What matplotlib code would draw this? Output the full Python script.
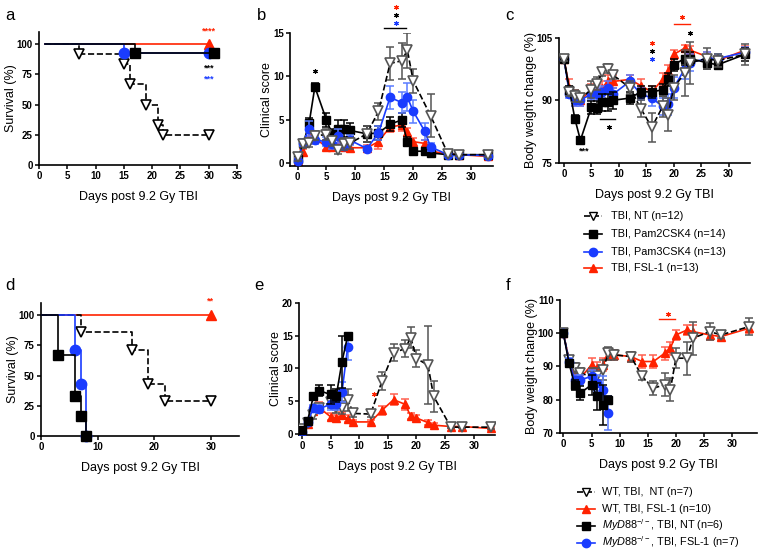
import matplotlib
matplotlib.use("Agg")
import matplotlib.pyplot as plt
from matplotlib.lines import Line2D

plt.rcParams['font.family'] = ['Liberation Sans', 'DejaVu Sans']
plt.rcParams['mathtext.fontset'] = 'custom'
plt.rcParams['mathtext.rm'] = 'Liberation Sans'
plt.rcParams['mathtext.it'] = 'Liberation Sans:italic'
plt.rcParams['mathtext.bf'] = 'Liberation Sans:bold'

RED = '#ff2200'
BLUE = '#1a3cff'
BLK = '#000000'
GRY = '#555555'
RED_E = '#ff6050'
BLUE_E = '#5a7cff'

# ---------------- data ----------------
# panel a survival
a_nt_t = [1, 7, 15, 16, 19, 21, 22, 30]; a_nt_s = [100, 91.7, 83.3, 66.7, 50, 33.3, 25, 25]
a_p2_t = [1, 17, 31]; a_p2_s = [100, 92.9, 92.9]
a_p3_t = [1, 15, 30]; a_p3_s = [100, 92.3, 92.3]
a_fsl_t = [1, 30]; a_fsl_s = [100, 100]

# panel b clinical score
days = [0, 1, 2, 3, 5, 6, 7, 8, 9, 12, 14, 16, 18, 19, 20, 22, 23, 26, 28, 33]
days_b_nt = [0, 1, 2, 3, 5, 6, 7, 8, 9, 12, 14, 16, 18, 19, 20, 23, 26, 28, 33]
nt_b = [0.7, 2.2, 2.4, 3.2, 3.3, 2.6, 1.5, 2.2, 2.3, 3.4, 6.0, 11.5, 11.8, 13.0, 9.5, 5.5, 1.1, 1.0, 1.0]
nt_b_err = [0.4, 0.4, 0.5, 0.5, 0.6, 0.6, 0.4, 0.7, 0.6, 0.9, 1.0, 1.9, 2.1, 2.0, 1.4, 2.5, 0.3, 0.2, 0.3]
p2_b = [0.5, 2.3, 4.6, 8.8, 5.0, 3.4, 4.0, 4.0, 3.8, 3.4, 3.5, 4.5, 5.0, 2.5, 1.4, 1.4, 1.2, 1.0, 1.0, 1.0]
p2_b_err = [0.3, 0.4, 0.6, 0.5, 0.8, 0.6, 1.0, 1.0, 0.8, 0.9, 0.8, 0.8, 0.8, 0.5, 0.3, 0.3, 0.3, 0.2, 0.2, 0.2]
p3_b = [0.3, 2.4, 4.0, 2.7, 2.5, 2.2, 3.2, 2.0, 2.7, 1.7, 3.5, 7.6, 7.0, 7.6, 6.0, 3.7, 1.9, 1.0, 1.0, 0.9]
p3_b_err = [0.3, 0.4, 0.9, 0.5, 0.5, 0.5, 0.8, 0.5, 0.6, 0.3, 0.8, 1.3, 1.2, 1.6, 1.3, 1.0, 0.5, 0.2, 0.2, 0.2]
fsl_b = [0.3, 1.3, 3.0, 2.9, 1.9, 1.9, 2.2, 1.9, 1.8, 1.8, 2.5, 4.2, 4.4, 3.6, 2.5, 2.3, 1.4, 1.1, 1.0, 0.8]
fsl_b_err = [0.3, 0.4, 0.8, 0.5, 0.4, 0.4, 0.5, 0.4, 0.4, 0.3, 0.8, 0.6, 0.7, 0.5, 0.4, 0.4, 0.3, 0.2, 0.2, 0.2]

# panel c body weight
nt_c = [100, 92, 91, 90.5, 92.5, 94, 96.8, 97.6, 96, 93, 88, 83.5, 88.5, 86.5, 93, 96.5, 99, 100, 99.5, 101]
nt_c_err = [0.5, 1, 1.5, 1, 2, 1.5, 1, 1, 1, 1.5, 2, 3.5, 2.5, 4, 3, 5.5, 5, 2.5, 1.5, 2.5]
p2_c = [100, 92.5, 85.5, 80.4, 88.3, 88.2, 89.5, 89.5, 90, 90.5, 92, 92, 92.5, 95, 98.5, 100, 100, 99, 98.5, 101]
p2_c_err = [0.5, 1, 1, 0.8, 1.5, 1.5, 2, 2, 2, 1.5, 1.5, 1.5, 1.5, 1.5, 1.5, 1.5, 1.5, 1.5, 1, 1.5]
p3_c = [100, 91.5, 90, 90, 91.5, 91.5, 92, 93, 91.5, 94.5, 91.5, 90.5, 88.5, 89, 93, 97.5, 99, 100, 100, 101.5]
p3_c_err = [0.5, 1, 1.5, 1.5, 1.5, 1.5, 1.5, 1.5, 1.5, 1.5, 1.5, 2, 2, 2.5, 2.5, 2.5, 2, 1.5, 1.2, 1.2]
fsl_c = [100, 93, 90.5, 90, 92.5, 92.5, 93, 94.5, 94.5, 95, 93.5, 92, 95, 97, 101, 102.5, 102, 100.5, 99.5, 102]
fsl_c_err = [0.5, 2, 2, 1.5, 1.5, 1.5, 1.5, 1.5, 1.5, 1, 1.5, 1.5, 1.5, 1.5, 1, 0.8, 1, 1, 1, 1]

# panel d survival
d_wtnt_t = [0, 7, 16, 19, 22, 30]; d_wtnt_s = [100, 85.7, 71.4, 42.9, 28.6, 28.6]
d_wtfsl_t = [0, 30]; d_wtfsl_s = [100, 100]
d_konnt_t = [0, 3, 6, 7, 8]; d_konnt_s = [100, 66.7, 33.3, 16.7, 0]
d_kofsl_t = [0, 6, 7, 8]; d_kofsl_s = [100, 71.4, 42.9, 0]

# panel e clinical score
days_ko = [0, 1, 2, 3, 5, 6, 7, 8]
wtnt_e = [0.7, 1.7, 2.8, 4.0, 4.8, 4.0, 4.0, 5.2, 3.1, 3.0, 8.1, 12.4, 13.0, 14.7, 11.5, 10.5, 5.7, 1.0, 1.0, 1.0]
wtnt_e_err = [0.3, 0.4, 0.5, 0.5, 0.8, 0.8, 1.0, 1.7, 0.6, 0.5, 1.4, 1.3, 1.3, 1.6, 1.3, 6.0, 2.4, 0.2, 0.2, 0.3]
wtfsl_e = [0.5, 1.5, 3.5, 4.0, 2.6, 2.4, 2.8, 2.3, 1.8, 1.8, 3.6, 5.2, 4.5, 2.7, 2.4, 1.7, 1.3, 1.1, 1.1, 0.8]
wtfsl_e_err = [0.3, 0.4, 0.7, 0.8, 0.5, 0.5, 0.5, 0.5, 0.3, 0.3, 0.7, 0.8, 0.8, 0.5, 0.5, 0.4, 0.3, 0.2, 0.2, 0.2]
kont_e = [0.5, 2.0, 5.7, 6.6, 6.0, 5.8, 11.0, 15.0]
kont_e_err = [0.3, 0.4, 0.6, 0.9, 1.4, 1.0, 4.0, 0.1]
kofsl_e = [0.3, 1.8, 3.9, 3.8, 4.5, 4.5, 6.4, 13.3]
kofsl_e_err = [0.3, 0.4, 0.5, 0.6, 0.9, 0.9, 1.5, 2.0]

# panel f body weight
wtnt_f = [100, 92, 89.5, 88, 87, 87, 89, 94, 93.5, 93, 87, 83.5, 84.5, 83, 92.5, 92.5, 98.5, 100.5, 99.5, 102]
wtnt_f_err = [0.5, 1, 1.5, 1.5, 2.5, 2.5, 3, 2, 1.5, 1.5, 1, 2, 3.5, 3.5, 3, 5, 5, 2.5, 1, 2.5]
wtfsl_f = [100, 92, 87, 86.5, 90.5, 89.5, 90.5, 93.5, 93.5, 93, 91.5, 91.5, 94, 95.5, 99.5, 101, 100.5, 99.5, 99, 101.5]
wtfsl_f_err = [0.5, 1, 1.5, 1.5, 2, 2, 2, 1.5, 1.5, 1.5, 2, 2, 2, 2, 1.5, 1.5, 2, 1.5, 1, 1.5]
kont_f = [100, 91, 84.5, 82, 84.5, 81, 78.5, 80]
kont_f_err = [0.5, 1, 1.5, 2, 3, 4, 6, 1]
kofsl_f = [100, 91.5, 86, 86, 87, 85, 83, 76]
kofsl_f_err = [0.5, 1, 1.5, 1.5, 2, 2.5, 4, 5]

legend1 = ['TBI, NT (n=12)', 'TBI, Pam2CSK4 (n=14)', 'TBI, Pam3CSK4 (n=13)', 'TBI, FSL-1 (n=13)']
legend2 = ['WT, TBI,  NT (n=7)', 'WT, TBI, FSL-1 (n=10)',
           r'$\mathit{MyD88}^{-/-}$, TBI, NT (n=6)', r'$\mathit{MyD88}^{-/-}$, TBI, FSL-1 (n=7)']
xlabel = 'Days post 9.2 Gy TBI'

# ---------------- figure ----------------
W, H = 760, 551
fig = plt.figure(figsize=(W / 100, H / 100), dpi=100)


def add_ax(l, r, t, b):
    return fig.add_axes([l / W, 1 - b / H, (r - l) / W, (b - t) / H])


def style(ax, ylabel):
    for s in ['top', 'right']:
        ax.spines[s].set_visible(False)
    for s in ['left', 'bottom']:
        ax.spines[s].set_linewidth(1.2)
    ax.tick_params(direction='out', length=3, width=1.1, labelsize=7, pad=1.5)
    for lab in ax.get_xticklabels() + ax.get_yticklabels():
        lab.set_fontweight('bold')
    ax.set_xlabel(xlabel, fontsize=9, labelpad=7)
    ax.set_ylabel(ylabel, fontsize=9, labelpad=0)


STY = {
    'nt': dict(color=BLK, ls='--', marker='v', mfc='white', mec=GRY, ms=6.5, mew=1.2, ecol=GRY),
    'p2': dict(color=BLK, ls='-', marker='s', mfc=BLK, mec=BLK, ms=6, mew=1, ecol=BLK),
    'p3': dict(color=BLUE, ls='-', marker='o', mfc=BLUE, mec=BLUE, ms=6, mew=1, ecol=BLUE_E),
    'fsl': dict(color=RED, ls='-', marker='^', mfc=RED, mec=RED, ms=6, mew=1, ecol=RED_E),
}


def eb(ax, x, y, e, key, z):
    s = STY[key]
    ax.errorbar(x, y, yerr=e, fmt='none', ecolor=s['ecol'], elinewidth=1.1, capsize=3, capthick=1.1, zorder=z)
    ax.plot(x, y, color=s['color'], ls=s['ls'], lw=1.2, marker=s['marker'], mfc=s['mfc'],
            mec=s['mec'], ms=s['ms'], mew=s['mew'], zorder=z + 0.5)


def surv(ax, t, sv, key, z):
    s = STY[key]
    ax.plot(t, sv, color=s['color'], ls=s['ls'], lw=1.2, drawstyle='steps-post', zorder=z)
    ax.plot(t[1:], sv[1:], ls='none', marker=s['marker'], mfc=s['mfc'], mec=s['mec'] if key != 'nt' else BLK,
            ms=7.5, mew=s['mew'], zorder=z + 0.5, clip_on=False)


def star(ax, x, y, txt, col, fs=6.5):
    ax.text(x, y, txt, color=col, fontsize=fs, ha='center', va='center', clip_on=False, fontweight='bold')


def star1(ax, x, y, col):
    ax.plot([x], [y], ls='none', marker=(6, 2, 0), ms=3.3, mew=0.8, color=col, clip_on=False)


def manual_legend(keys, labels, x_line, x_text, ys):
    for k, lab, y in zip(keys, labels, ys):
        s = STY[k]
        yf = 1 - y / H
        fig.add_artist(Line2D([x_line / W, (x_line + 18) / W], [yf, yf], transform=fig.transFigure,
                              color=s['color'], ls=s['ls'], lw=1.2))
        fig.add_artist(Line2D([(x_line + 9) / W], [yf], transform=fig.transFigure, ls='none',
                              marker=s['marker'], mfc=s['mfc'], mec=BLK if k == 'nt' else s['mec'],
                              ms=6, mew=1))
        fig.text(x_text / W, 1 - (y + 3) / H, lab, fontsize=7.8, ha='left', va='baseline')


# ---- a ----
ax = add_ax(39, 237, 32, 165)
surv(ax, a_fsl_t, a_fsl_s, 'fsl', 2)
surv(ax, a_nt_t, a_nt_s, 'nt', 3)
surv(ax, a_p3_t, a_p3_s, 'p3', 4)
surv(ax, a_p2_t, a_p2_s, 'p2', 5)
ax.set_xlim(0, 35); ax.set_ylim(0, 110)
ax.set_xticks(range(0, 36, 5)); ax.set_yticks([0, 25, 50, 75, 100])
style(ax, 'Survival (%)')
star(ax, 30, 110.5, '****', RED)
star(ax, 30, 80, '***', BLK)
star(ax, 30, 71, '***', BLUE)

# ---- b ----
ax = add_ax(290, 493, 33, 166)
eb(ax, days, fsl_b, fsl_b_err, 'fsl', 2)
eb(ax, days, p2_b, p2_b_err, 'p2', 3)
eb(ax, days, p3_b, p3_b_err, 'p3', 4)
eb(ax, days_b_nt, nt_b, nt_b_err, 'nt', 5)
ax.set_xlim(-1.3, 33.8); ax.set_ylim(-0.3, 15)
ax.set_xticks(range(0, 31, 5)); ax.set_yticks([0, 5, 10, 15])
style(ax, 'Clinical score')
star1(ax, 3, 10.6, BLK)
ax.plot([15, 18.7], [15.6, 15.6], color=BLK, lw=1, clip_on=False)
star1(ax, 17, 18.0, RED)
star1(ax, 17, 17.1, BLK)
star1(ax, 17, 16.1, BLUE)

# ---- c ----
ax = add_ax(559, 750, 37.7, 162.7)
eb(ax, days, fsl_c, fsl_c_err, 'fsl', 2)
eb(ax, days, p3_c, p3_c_err, 'p3', 3)
eb(ax, days, p2_c, p2_c_err, 'p2', 4)
eb(ax, days, nt_c, nt_c_err, 'nt', 5)
ax.set_xlim(-0.9, 33.9); ax.set_ylim(75, 105)
ax.set_xticks(range(0, 31, 5)); ax.set_yticks([75, 90, 105])
style(ax, 'Body weight change (%)')
star(ax, 3.6, 77.8, '***', BLK)
ax.plot([6.5, 9.3], [85.4, 85.4], color=BLK, lw=1)
star1(ax, 8.2, 83.6, BLK)
star1(ax, 16, 103.8, RED)
star1(ax, 16, 101.9, BLK)
star1(ax, 16, 99.8, BLUE)
ax.plot([20.1, 23], [108.4, 108.4], color=RED, lw=1, clip_on=False)
star1(ax, 21.6, 109.9, RED)
star1(ax, 23, 106.2, BLK)

# ---- legend 1 ----
manual_legend(['nt', 'p2', 'p3', 'fsl'], legend1, 584, 611, [216, 234, 252, 268])

# ---- d ----
ax = add_ax(41, 239, 303, 436)
surv(ax, d_wtfsl_t, d_wtfsl_s, 'fsl', 2)
surv(ax, d_wtnt_t, d_wtnt_s, 'nt', 3)
surv(ax, d_kofsl_t, d_kofsl_s, 'p3', 4)
surv(ax, d_konnt_t, d_konnt_s, 'p2', 5)
ax.set_xlim(0, 35); ax.set_ylim(0, 110)
ax.set_xticks([0, 10, 20, 30]); ax.set_yticks([0, 25, 50, 75, 100])
style(ax, 'Survival (%)')
star(ax, 30, 111.5, '**', RED)

# ---- e ----
ax = add_ax(299, 495, 303, 435)
eb(ax, days, wtfsl_e, wtfsl_e_err, 'fsl', 2)
eb(ax, days, wtnt_e, wtnt_e_err, 'nt', 3)
eb(ax, days_ko, kofsl_e, kofsl_e_err, 'p3', 4)
eb(ax, days_ko, kont_e, kont_e_err, 'p2', 5)
ax.set_xlim(-0.5, 33.7); ax.set_ylim(-0.2, 20)
ax.set_xticks(range(0, 31, 5)); ax.set_yticks(range(0, 21, 5))
style(ax, 'Clinical score')
star1(ax, 12.5, 6.1, RED)

# ---- f ----
ax = add_ax(560, 757, 300, 433)
eb(ax, days, wtfsl_f, wtfsl_f_err, 'fsl', 2)
eb(ax, days, wtnt_f, wtnt_f_err, 'nt', 3)
eb(ax, days_ko, kofsl_f, kofsl_f_err, 'p3', 4)
eb(ax, days_ko, kont_f, kont_f_err, 'p2', 5)
ax.set_xlim(-0.6, 34.4); ax.set_ylim(70, 110)
ax.set_xticks(range(0, 31, 5)); ax.set_yticks(range(70, 111, 10))
style(ax, 'Body weight change (%)')
ax.plot([17, 19.8], [104.4, 104.4], color=RED, lw=1)
star1(ax, 18.6, 105.9, RED)

# ---- legend 2 ----
manual_legend(['nt', 'fsl', 'p2', 'p3'], legend2, 577, 602, [492, 509, 526, 543])

# panel letters
for lx, ly, t in [(10, 15, 'a'), (262, 15, 'b'), (509, 15, 'c'), (10, 286, 'd'), (259, 286, 'e'), (508, 286, 'f')]:
    fig.text(lx / W, 1 - ly / H, t, fontsize=12, ha='center', va='center')

fig.savefig('out.png', dpi=100)
